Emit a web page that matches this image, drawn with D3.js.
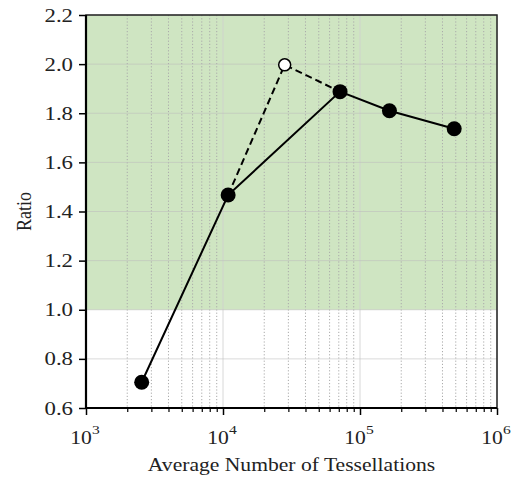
<!DOCTYPE html>
<html><head><meta charset="utf-8">
<script src="https://cdn.jsdelivr.net/npm/d3@7"></script>
<style>body{margin:0;background:#fff}svg{display:block}</style>
</head><body>
<script>
const solidX = [2550, 10900, 71500, 164000, 487000];
const solidY = [0.705, 1.467, 1.888, 1.81, 1.737];
const dashedX = [10900, 28200, 71500];
const dashedY = [1.467, 1.997, 1.888];
const openX = [28200];
const openY = [1.997];
const yTicks = [0.6, 0.8, 1.0, 1.2, 1.4, 1.6, 1.8, 2.0, 2.2];
const xDecades = [3, 4, 5, 6];
const shadeRange = [1.0, 2.2];

const W = 515, H = 479;
const m = {l: 86, r: 497, t: 15, b: 408};
const SX = 1.2; // horizontal stretch of text
const svg = d3.select("body").append("svg").attr("width", W).attr("height", H);
const x = d3.scaleLog().domain([1e3, 1e6]).range([m.l, m.r]);
const y = d3.scaleLinear().domain([0.6, 2.2]).range([m.b, m.t]);
const font = "'Liberation Serif','Times New Roman',serif";

svg.append("rect").attr("x", m.l).attr("width", m.r - m.l)
  .attr("y", y(shadeRange[1])).attr("height", y(shadeRange[0]) - y(shadeRange[1]))
  .attr("fill", "#cfe5c2");

const minors = [];
for (let d = 3; d < 6; d++) for (let k = 2; k <= 9; k++) minors.push(k * Math.pow(10, d));
const majors = xDecades.map(d => Math.pow(10, d));

svg.append("g").selectAll("line").data(minors).join("line")
  .attr("x1", d => x(d)).attr("x2", d => x(d)).attr("y1", m.t).attr("y2", m.b)
  .attr("stroke", "#aaaaaa").attr("stroke-width", 1).attr("stroke-dasharray", "1.2,2");
svg.append("g").selectAll("line").data(majors).join("line")
  .attr("x1", d => x(d)).attr("x2", d => x(d)).attr("y1", m.t).attr("y2", m.b)
  .attr("stroke", "#d0d0d0").attr("stroke-width", 1).attr("opacity", 0.8);
svg.append("g").selectAll("line").data(yTicks).join("line")
  .attr("x1", m.l).attr("x2", m.r).attr("y1", d => y(d)).attr("y2", d => y(d))
  .attr("stroke", "#bdbdbd").attr("stroke-width", 1).attr("opacity", 0.55);

const line = d3.line().x(d => x(d[0])).y(d => y(d[1]));
svg.append("path").datum(d3.zip(dashedX, dashedY)).attr("d", line)
  .attr("fill", "none").attr("stroke", "#000").attr("stroke-width", 2).attr("stroke-dasharray", "7,4");
svg.append("path").datum(d3.zip(solidX, solidY)).attr("d", line)
  .attr("fill", "none").attr("stroke", "#000").attr("stroke-width", 2);

svg.append("g").selectAll("circle").data(d3.zip(solidX, solidY)).join("circle")
  .attr("cx", d => x(d[0])).attr("cy", d => y(d[1])).attr("r", 7.5).attr("fill", "#000");
svg.append("g").selectAll("circle").data(d3.zip(openX, openY)).join("circle")
  .attr("cx", d => x(d[0])).attr("cy", d => y(d[1])).attr("r", 6)
  .attr("fill", "#fff").attr("stroke", "#000").attr("stroke-width", 1.5);

const yAxis = d3.axisLeft(y).tickValues(yTicks).tickFormat(d3.format(".1f")).tickSize(7).tickPadding(6);
const gy = svg.append("g").attr("transform", `translate(${m.l},0)`).call(yAxis);
gy.select(".domain").remove();
gy.selectAll(".tick line").attr("stroke-width", 1.5);
gy.selectAll("text").attr("font-family", font).attr("font-size", 19).attr("fill", "#222")
  .attr("x", -13 / SX).attr("transform", `scale(${SX},1)`);

const xAxis = d3.axisBottom(x).tickValues(majors).tickFormat("").tickSize(7);
const gx = svg.append("g").attr("transform", `translate(0,${m.b})`).call(xAxis);
gx.select(".domain").remove();
gx.selectAll(".tick line").attr("stroke-width", 1.5);
const xMinor = d3.axisBottom(x).tickValues(minors).tickFormat("").tickSize(4);
const gxm = svg.append("g").attr("transform", `translate(0,${m.b})`).call(xMinor);
gxm.select(".domain").remove();
gxm.selectAll(".tick line").attr("stroke-width", 1.2);

const lab = svg.append("g").selectAll("text").data(xDecades).join("text")
  .attr("transform", d => `translate(${x(Math.pow(10, d)) - 1},444) scale(${SX},1)`)
  .attr("text-anchor", "middle").attr("font-family", font).attr("font-size", 18).attr("fill", "#222");
lab.append("tspan").text("10");
lab.append("tspan").attr("dy", -10).attr("font-size", 13).text(d => d);

svg.append("rect").attr("x", m.l).attr("y", m.t).attr("width", m.r - m.l).attr("height", m.b - m.t)
  .attr("fill", "none").attr("stroke", "#222").attr("stroke-width", 1.5);
svg.append("line").attr("x1", m.l).attr("x2", m.l).attr("y1", m.t).attr("y2", m.b + 1).attr("stroke", "#000").attr("stroke-width", 2.2);
svg.append("line").attr("x1", m.l - 1).attr("x2", m.r).attr("y1", m.b).attr("y2", m.b).attr("stroke", "#000").attr("stroke-width", 2.2);

svg.append("text").attr("transform", `translate(${(m.l + m.r) / 2},471) scale(${SX},1)`).attr("text-anchor", "middle")
  .attr("font-family", font).attr("font-size", 18).attr("fill", "#222").text("Average Number of Tessellations");
svg.append("text").attr("transform", `translate(31,${(m.t + m.b) / 2}) rotate(-90) scale(1,${SX})`).attr("text-anchor", "middle")
  .attr("font-family", font).attr("font-size", 18).attr("fill", "#222").text("Ratio");
</script>
</body></html>
